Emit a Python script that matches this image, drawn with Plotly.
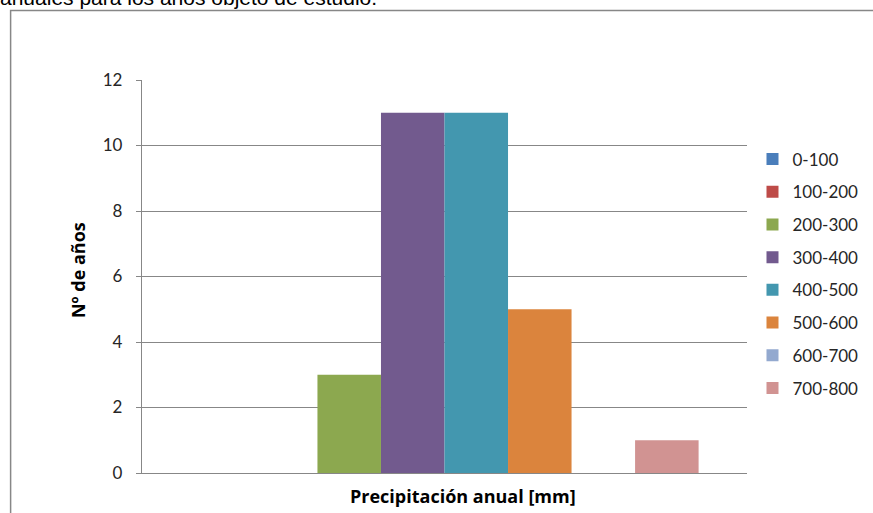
import plotly.graph_objects as go

# Histogram of annual rainfall classes (one bar per class)
categories = ["0-100", "100-200", "200-300", "300-400",
              "400-500", "500-600", "600-700", "700-800"]
years_count = [0, 0, 3, 11, 11, 5, 0, 1]
colors = ["#4A7EBB", "#BE4B48", "#8CA84F", "#725A8E",
          "#4397AF", "#DB843D", "#93A9CF", "#D19392"]
y_ticks = [0, 2, 4, 6, 8, 10, 12]

label_font = "Lato, Calibri, Carlito, sans-serif"
title_font = "Open Sans, Calibri, sans-serif"
grid_color = "#878787"

# pixel -> paper helpers for the 142..747.5 x 80..473 plot box
def px_x(px):
    return (px - 142) / 605.5

def px_y(py):
    return (473 - py) / 393

fig = go.Figure()
for name, val, col in zip(categories, years_count, colors):
    fig.add_trace(go.Bar(
        x=[""], y=[val], name=name,
        marker=dict(color=col, line=dict(width=0)),
        legendgroup=name,
    ))

fig.update_layout(
    width=873, height=513,
    margin=dict(l=142, r=125.5, t=80, b=40, autoexpand=False),
    paper_bgcolor="white", plot_bgcolor="white",
    barmode="group", bargap=0.16, bargroupgap=0,
    showlegend=True,
    legend=dict(
        x=px_x(753), y=px_y(141.5), xanchor="left", yanchor="top",
        font=dict(family=label_font, size=17, color="#262626"),
        traceorder="grouped", tracegroupgap=7.6,
        itemwidth=30, bgcolor="rgba(0,0,0,0)",
    ),
    xaxis=dict(
        showticklabels=False, showgrid=False, ticks="",
        showline=True, linecolor=grid_color, linewidth=1.3,
        fixedrange=True,
    ),
    yaxis=dict(
        range=[0, 12], tickvals=y_ticks,
        showgrid=True, gridcolor=grid_color, gridwidth=1.3,
        showline=True, linecolor=grid_color, linewidth=1.3,
        ticks="outside", ticklen=5, tickcolor=grid_color, tickwidth=1.3,
        ticklabelstandoff=10,
        tickfont=dict(family=label_font, size=17, color="#262626"),
        zeroline=False,
    ),
    annotations=[
        dict(text="anuales para los años objeto de estudio.",
             xref="paper", yref="paper",
             x=px_x(-2), y=px_y(-3), xanchor="left", yanchor="middle",
             showarrow=False,
             font=dict(family="Liberation Sans, Arial, sans-serif", size=21, color="black")),
        dict(text="<b>Precipitación anual [mm]</b>",
             xref="paper", yref="paper",
             x=px_x(463.5), y=px_y(496),
             xanchor="center", yanchor="middle", showarrow=False,
             font=dict(family=title_font, size=18, color="black")),
        dict(text="<b>Nº de años</b>",
             xref="paper", yref="paper",
             x=px_x(78), y=px_y(270), textangle=-90,
             xanchor="center", yanchor="middle", showarrow=False,
             font=dict(family=title_font, size=18, color="black")),
    ],
    shapes=[
        dict(type="rect", xref="paper", yref="paper",
             x0=px_x(10.5), x1=1.5,
             y0=-0.3, y1=px_y(10.5),
             line=dict(color="#878787", width=1.5),
             fillcolor="rgba(0,0,0,0)", layer="below"),
    ],
)

fig.write_html("out.html")
